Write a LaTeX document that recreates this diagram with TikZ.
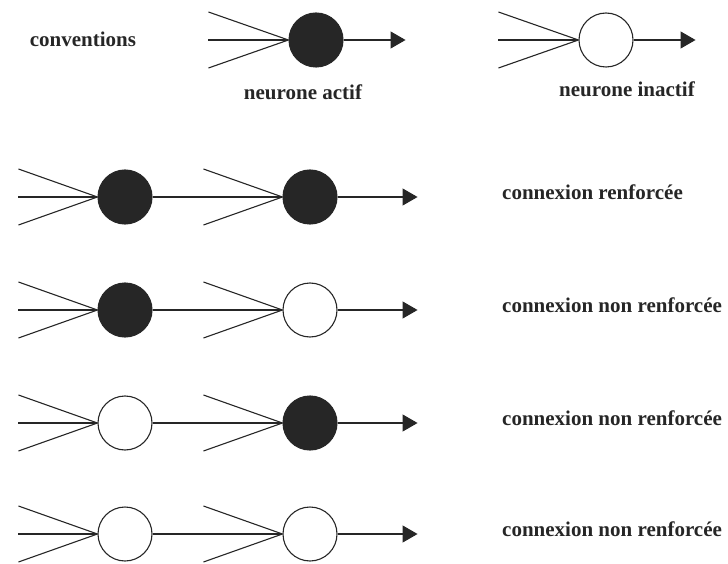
\documentclass[tikz,border=0pt]{standalone}
\usepackage{fontspec}
\setmainfont{Liberation Serif}
\usetikzlibrary{arrows.meta,positioning,calc}
\definecolor{ink}{HTML}{262626}
\tikzset{
  neuron/.style={circle,draw=ink,line width=1.1pt,minimum size=54pt,inner sep=0pt},
  actif/.style={neuron,fill=ink},
  inactif/.style={neuron,fill=white},
  fibre/.style={draw=ink,line width=1.1pt},
  axone/.style={fibre,-{Triangle[length=15pt,width=17pt]}},
  legende/.style={font=\bfseries\fontsize{21}{24}\selectfont,text=ink,inner sep=0pt}
}

\begin{document}
\begin{tikzpicture}[x=1pt,y=-1pt]
\useasboundingbox (0,0) rectangle (728,564);
% conventions
\node[legende] (conv) at (83,39) {conventions};
\node[actif] (na) at (316,40) {};
\node[inactif] (ni) at (606,40) {};
\foreach \n in {na,ni} {
  \foreach \dy [count=\k] in {-28,0,28} {
    \coordinate (\n-e\k) at ($(\n.west)+(-80,\dy)$);
    \draw[fibre] (\n-e\k) -- (\n.west);
  }
  \coordinate (\n-s) at ($(\n.east)+(62,0)$);
  \draw[axone] (\n) -- (\n-s);
}
\node[legende] (la) at (303,92) {neurone actif};
\node[legende] (li) at (627,89) {neurone inactif};
% paires de neurones
\foreach \y/\a/\b/\txt [count=\r] in {197/actif/actif/connexion renforcée,
    310/actif/inactif/connexion non renforcée,
    423/inactif/actif/connexion non renforcée,
    534/inactif/inactif/connexion non renforcée} {
  \node[\a] (a\r) at (125,\y) {};
  \node[\b] (b\r) at (310,\y) {};
  \foreach \dy [count=\k] in {-28,0,28} {
    \coordinate (a\r-e\k) at ($(a\r.west)+(-79,\dy)$);
    \draw[fibre] (a\r-e\k) -- (a\r.west);
  }
  \foreach \dy [count=\k] in {-28,28} {
    \coordinate (b\r-e\k) at ($(b\r.west)+(-79,\dy)$);
    \draw[fibre] (b\r-e\k) -- (b\r.west);
  }
  \draw[fibre] (a\r) -- (b\r);
  \coordinate (b\r-s) at ($(b\r.east)+(80,0)$);
  \draw[axone] (b\r) -- (b\r-s);
  \node[legende,anchor=west] (l\r) at (502,\y-5) {\txt};
}
\end{tikzpicture}
\end{document}
